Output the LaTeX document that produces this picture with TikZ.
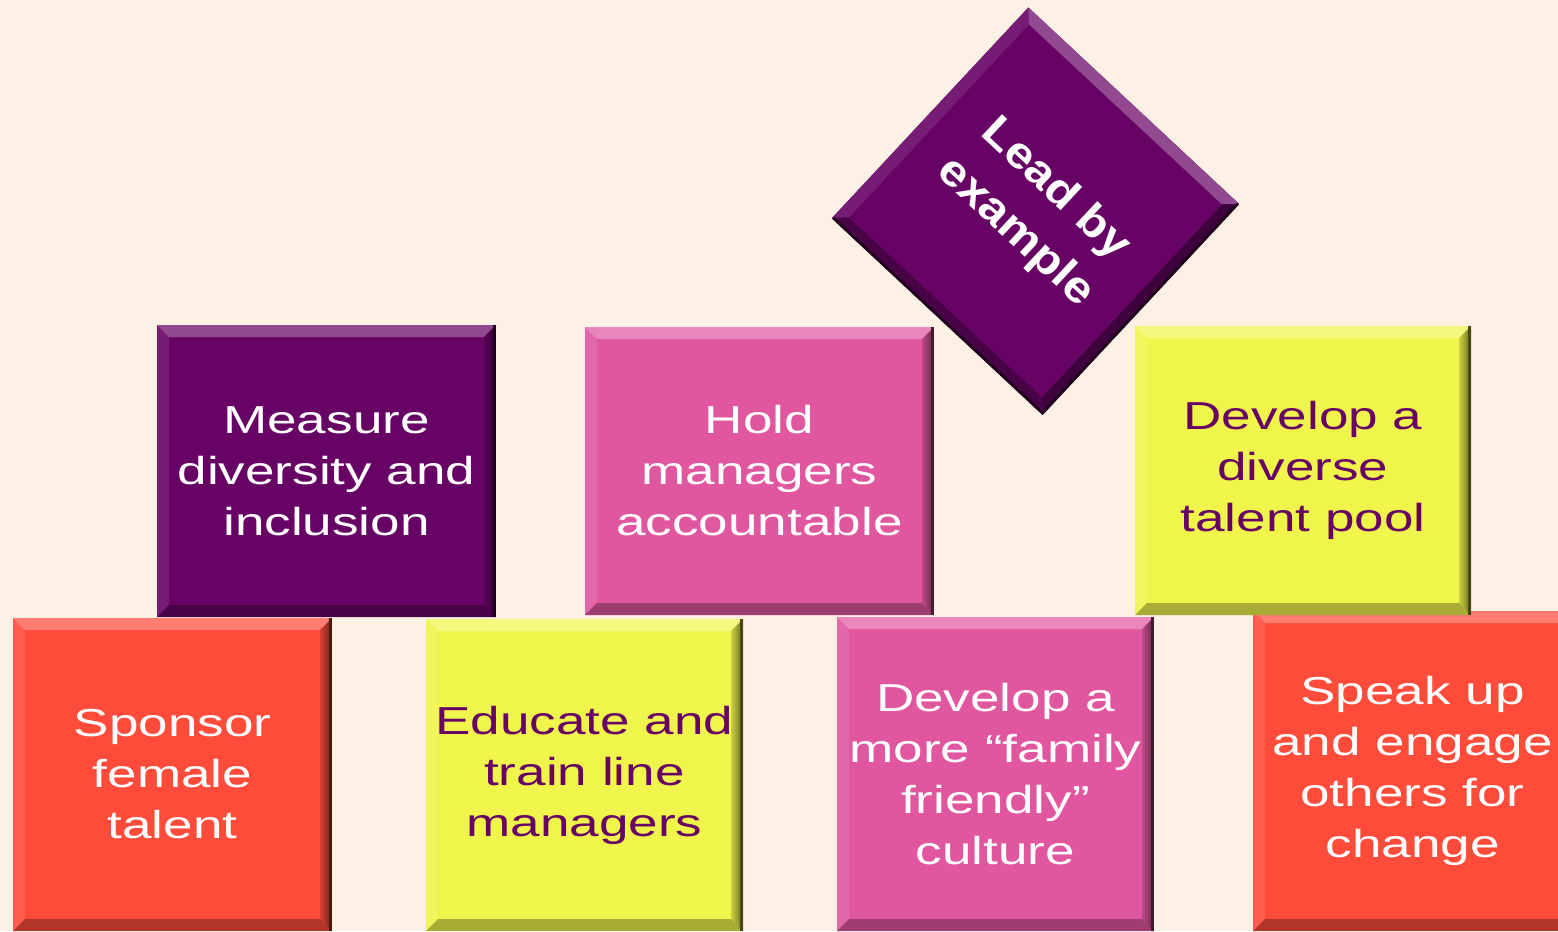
\documentclass[tikz,border=0pt]{standalone}
\usepackage{fontspec}
\setmainfont{Liberation Sans}
\newfontfamily\tilefont[FakeStretch=1.36]{Liberation Sans}
\newfontfamily\leadfont[FakeStretch=1.12]{Liberation Sans}
\definecolor{bg}{RGB}{253, 240, 228}
\definecolor{plum}{RGB}{103, 3, 100}
\definecolor{rose}{RGB}{224, 87, 160}
\definecolor{lemon}{RGB}{240, 245, 75}
\definecolor{tomato}{RGB}{255, 75, 58}

\begin{document}
\begin{tikzpicture}[
tilebase/.style={rectangle, inner sep=0pt, align=center, text=white, fill=#1,
  font=\tilefont\fontsize{11.1}{14.5}\selectfont},
tilenode/.style={tilebase=#1,
  path picture={
    \path (path picture bounding box.north west) coordinate (tl)
          (path picture bounding box.north east) coordinate (tr)
          (path picture bounding box.south west) coordinate (bl)
          (path picture bounding box.south east) coordinate (br);
    % bevel: light top and left, dark right and bottom
    \fill[#1!90!white] (tl) -- (bl) -- ([shift={(1.2mm,1.2mm)}]bl) -- ([shift={(1.2mm,-1.2mm)}]tl) -- cycle;
    \fill[#1!72!white] (tl) -- (tr) -- ([shift={(-1.2mm,-1.2mm)}]tr) -- ([shift={(1.2mm,-1.2mm)}]tl) -- cycle;
    \fill[#1!70!black] (bl) -- (br) -- ([shift={(-1.2mm,1.2mm)}]br) -- ([shift={(1.2mm,1.2mm)}]bl) -- cycle;
    \shade[left color=#1!85!black, right color=#1!45!black] (tr) -- (br) -- ([shift={(-1.2mm,1.2mm)}]br) -- ([shift={(-1.2mm,-1.2mm)}]tr) -- cycle;
    \draw[#1!30!black, line width=0.8pt] ([xshift=-0.4pt]tr) -- ([xshift=-0.4pt]br);
  }},
]
\clip (0,0) rectangle (15.58,9.31);
\fill[bg] (0,0) rectangle (15.58,9.31);

%Bottom row
\node[tilenode=tomato, minimum width=3.19cm, minimum height=3.13cm] (sponsor) at (1.725,1.565) {Sponsor\\female\\talent};
\node[tilenode=lemon, text=plum, minimum width=3.17cm, minimum height=3.12cm] (educate) at (5.845,1.56) {Educate and\\train line\\managers};
\node[tilenode=rose, minimum width=3.17cm, minimum height=3.14cm] (family) at (9.955,1.57) {Develop a\\more “family\\friendly”\\culture};
\node[tilenode=tomato, minimum width=3.19cm, minimum height=3.20cm] (speak) at (14.125,1.60) {Speak up\\and engage\\others for\\change};

%Top row
\node[tilenode=plum, minimum width=3.39cm, minimum height=2.92cm] (measure) at (3.265,4.60) {Measure\\diversity and\\inclusion};
\node[tilenode=rose, minimum width=3.49cm, minimum height=2.88cm] (hold) at (7.595,4.60) {Hold\\managers\\accountable};
\node[tilenode=lemon, text=plum, minimum width=3.36cm, minimum height=2.89cm] (pool) at (13.03,4.605) {Develop a\\diverse\\talent pool};

%Tilted block on top
\node[tilebase=plum, minimum size=2.88cm, rotate=-43, font=\leadfont\bfseries\fontsize{12.5}{16.5}\selectfont] (lead) at (10.355,7.20) {Lead by\\example};
\begin{scope}[shift={(lead.center)}, rotate=-43]
\fill[plum!90!white] (-1.44,1.44) -- (-1.44,-1.44) -- (-1.32,-1.32) -- (-1.32,1.32) -- cycle;
\fill[plum!72!white] (-1.44,1.44) -- (1.44,1.44) -- (1.32,1.32) -- (-1.32,1.32) -- cycle;
\fill[plum!70!black] (-1.44,-1.44) -- (1.44,-1.44) -- (1.32,-1.32) -- (-1.32,-1.32) -- cycle;
\fill[plum!60!black] (1.44,1.44) -- (1.44,-1.44) -- (1.32,-1.32) -- (1.32,1.32) -- cycle;
\draw[plum!30!black, line width=0.8pt] (1.43,1.43) -- (1.43,-1.43) -- (-1.43,-1.43);
\end{scope}

\end{tikzpicture}
\end{document}
